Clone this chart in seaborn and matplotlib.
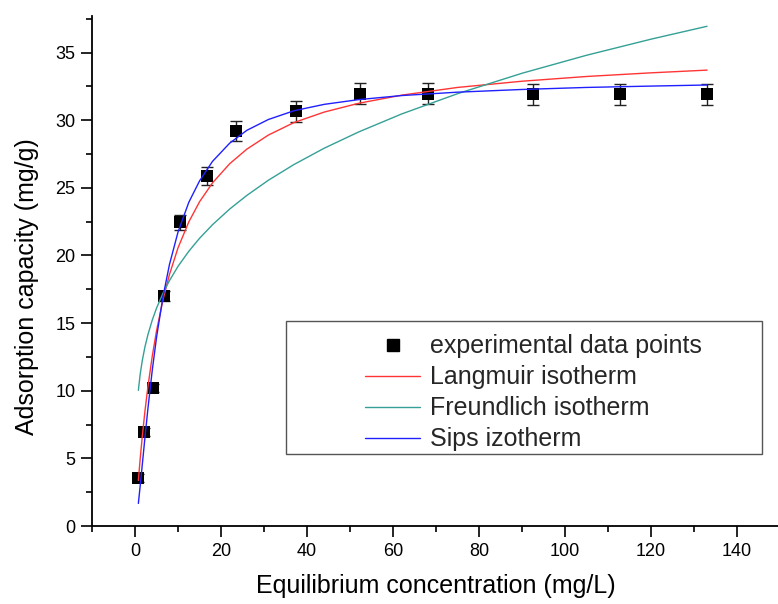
import matplotlib
matplotlib.use("Agg")
import matplotlib.pyplot as plt
from matplotlib.ticker import MultipleLocator
from matplotlib.patches import Rectangle
from matplotlib.lines import Line2D
import seaborn as sns
import pandas as pd

# ---- data ----
conc = [0.77, 2.09, 4.26, 6.81, 10.47, 16.67, 23.4, 37.4, 52.3, 68.2, 92.6, 112.8, 132.9]
capacity = [3.55, 6.96, 10.17, 17.0, 22.45, 25.85, 29.2, 30.67, 31.95, 31.95, 31.9, 31.9, 31.9]
capacity_err = [0.3, 0.3, 0.3, 0.35, 0.55, 0.66, 0.72, 0.78, 0.78, 0.78, 0.8, 0.8, 0.8]

curve_x = [0.77, 1.2, 1.7, 2.3, 3, 4, 5, 6.5, 8, 10, 12.5, 15, 18, 22, 26, 31, 37,
           44, 52, 62, 75, 90, 105, 120, 133]
langmuir_y = [3.37, 4.99, 6.68, 8.48, 10.32, 12.55, 14.43, 16.73, 18.59, 20.57, 22.48,
              23.97, 25.36, 26.78, 27.86, 28.90, 29.83, 30.60, 31.25, 31.85, 32.42,
              32.88, 33.23, 33.50, 33.70]
freundlich_y = [10.03, 11.23, 12.26, 13.24, 14.15, 15.22, 16.11, 17.21, 18.14, 19.20,
                20.31, 21.27, 22.27, 23.43, 24.44, 25.56, 26.73, 27.93, 29.13, 30.46,
                31.96, 33.47, 34.80, 35.99, 36.94]
sips_y = [1.67, 2.98, 4.59, 6.53, 8.70, 11.51, 13.95, 16.95, 19.33, 21.74, 23.93, 25.51,
          26.95, 28.30, 29.25, 30.05, 30.70, 31.17, 31.52, 31.82, 32.07, 32.27, 32.42,
          32.52, 32.60]

labels = ["experimental data points", "Langmuir isotherm", "Freundlich isotherm", "Sips izotherm"]
colors = {"Langmuir isotherm": "#ff3535", "Freundlich isotherm": "#35a096", "Sips izotherm": "#2020ff"}

x_ticks = [0, 20, 40, 60, 80, 100, 120, 140]
y_ticks = [0, 5, 10, 15, 20, 25, 30, 35]

# ---- style ----
sns.set_theme(style="ticks")
plt.rcParams["font.family"] = ["Liberation Sans", "DejaVu Sans"]

fig = plt.figure(figsize=(7.78, 6.04), dpi=100)
ax = fig.add_axes([0.1183, 0.1291, 0.8817, 0.8444])

curves = pd.DataFrame({
    "x": curve_x * 3,
    "y": langmuir_y + freundlich_y + sips_y,
    "model": [labels[1]] * len(curve_x) + [labels[2]] * len(curve_x) + [labels[3]] * len(curve_x),
})

ax.errorbar(conc, capacity, yerr=capacity_err, fmt="none", ecolor="#222222",
            elinewidth=1.0, capsize=4, capthick=1.0, zorder=2)
sns.scatterplot(x=conc, y=capacity, marker="s", s=75, color="black", edgecolor="black",
                linewidth=0, ax=ax, zorder=3, legend=False)
sns.lineplot(data=curves, x="x", y="y", hue="model", palette=colors, sort=False,
             estimator=None, linewidth=1.0, ax=ax, zorder=4, legend=False)

ax.set_xlim(-10, 149.5)
ax.set_ylim(0, 37.7)
ax.set_xticks(x_ticks)
ax.set_yticks(y_ticks)
ax.xaxis.set_minor_locator(MultipleLocator(10))
ax.yaxis.set_minor_locator(MultipleLocator(2.5))
ax.tick_params(which="major", direction="out", length=8, width=1.2, labelsize=13,
               colors="black", pad=4)
ax.tick_params(which="minor", direction="out", length=4, width=1.2, colors="black")
for side in ["top", "right"]:
    ax.spines[side].set_visible(False)
for side in ["left", "bottom"]:
    ax.spines[side].set_linewidth(1.3)
    ax.spines[side].set_color("black")

ax.set_xlabel("Equilibrium concentration (mg/L)", fontsize=18, color="black")
ax.set_ylabel("Adsorption capacity (mg/g)", fontsize=18, color="black")
ax.xaxis.set_label_coords(0.501, -0.095)
ax.yaxis.set_label_coords(-0.078, 0.47)

# legend frame and entries
ax.add_patch(Rectangle((0.283, 0.141), 0.694, 0.261, transform=ax.transAxes,
                       fill=False, edgecolor="#555555", linewidth=1.0, zorder=5))
handles = [
    Line2D([], [], marker="s", linestyle="none", color="black", markersize=8.5),
    Line2D([], [], color=colors[labels[1]], linewidth=1.0),
    Line2D([], [], color=colors[labels[2]], linewidth=1.0),
    Line2D([], [], color=colors[labels[3]], linewidth=1.0),
]
ax.legend(handles, labels, loc="upper left", bbox_to_anchor=(0.398, 0.376),
          frameon=False, fontsize=18, handlelength=2.2, handletextpad=0.4,
          borderpad=0, borderaxespad=0, labelspacing=0.28)

fig.savefig("out.png", dpi=100)
